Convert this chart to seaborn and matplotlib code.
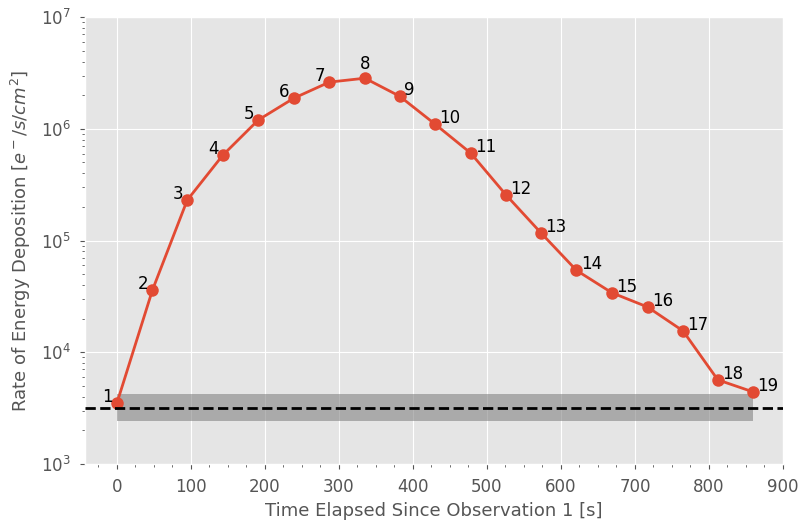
import matplotlib
matplotlib.use("Agg")
import matplotlib.pyplot as plt
import seaborn as sns
import numpy as np
import pandas as pd
from matplotlib.ticker import AutoMinorLocator, LogLocator, NullFormatter

# Data
obs_labels = [str(i) for i in range(1, 20)]
time_s = [0, 48, 95, 143, 191, 239, 287, 335, 382, 430, 478, 526, 573, 621, 669, 717, 765, 812, 860]
rate = [3500, 36000, 2.3e5, 5.8e5, 1.2e6, 1.88e6, 2.62e6, 2.84e6, 1.96e6, 1.1e6,
        6.07e5, 2.55e5, 1.17e5, 5.4e4, 3.4e4, 2.54e4, 1.55e4, 5650, 4400]
background_level = 3170
background_low = 2425
background_high = 4230

plt.style.use("ggplot")
df = pd.DataFrame({"time": time_s, "rate": rate, "obs": obs_labels})

fig = plt.figure(figsize=(8.03, 5.20), dpi=100)
ax = fig.add_axes([0.106, 0.108, 0.869, 0.859])

sns.lineplot(data=df, x="time", y="rate", ax=ax, color="#E24A33", marker="o",
             markersize=9, markeredgewidth=0, linewidth=2, zorder=3)

ax.fill_between([time_s[0], time_s[-1]], background_low, background_high,
                color="gray", alpha=0.58, linewidth=0, zorder=2)
ax.axhline(background_level, color="black", linestyle="--", linewidth=2, zorder=4)

ax.set_yscale("log")
ax.set_ylim(1e3, 1e7)
ax.yaxis.set_minor_locator(LogLocator(base=10, subs=np.arange(2, 10) * 1.0, numticks=20))
ax.yaxis.set_minor_formatter(NullFormatter())
ax.xaxis.set_minor_locator(AutoMinorLocator(4))
ax.set_xticks(range(0, 901, 100))
ax.set_xlim(-43, 900)

for i, (t, r, lab) in enumerate(zip(time_s, rate, obs_labels)):
    if i < 7:
        ax.annotate(lab, (t, r), xytext=(-3, -2), textcoords="offset points",
                    ha="right", va="bottom", fontsize=12, color="black", zorder=5)
    elif i == 7:
        ax.annotate(lab, (t, r), xytext=(0, 4), textcoords="offset points",
                    ha="center", va="bottom", fontsize=12, color="black", zorder=5)
    else:
        ax.annotate(lab, (t, r), xytext=(3, -2), textcoords="offset points",
                    ha="left", va="bottom", fontsize=12, color="black", zorder=5)

ax.set_xlabel("Time Elapsed Since Observation 1 [s]", fontsize=13, color="#555555")
ax.set_ylabel(r"Rate of Energy Deposition [$e^-/s/cm^2$]", fontsize=13,
              color="#555555", labelpad=5.5)
ax.tick_params(axis="both", which="major", labelsize=12, colors="#555555", pad=7)
ax.tick_params(axis="both", which="minor", colors="#555555")

fig.savefig("out.png", dpi=100)
